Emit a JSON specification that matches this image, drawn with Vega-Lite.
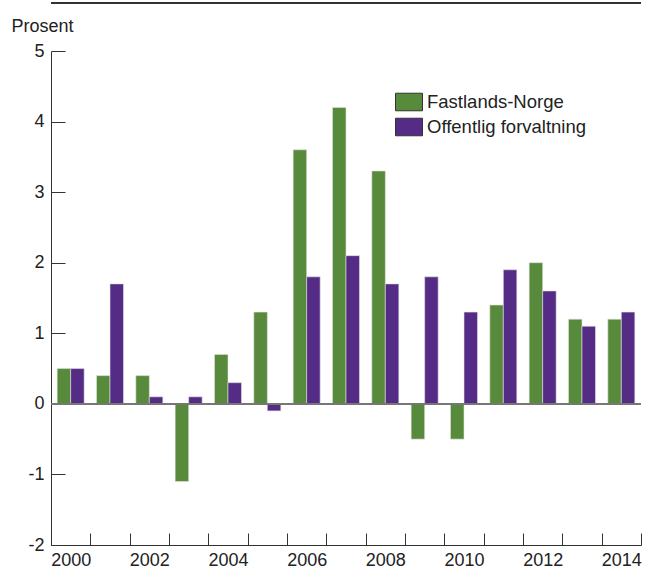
{
  "$schema": "https://vega.github.io/schema/vega-lite/v6.json",
  "autosize": {"type": "none"},
  "width": 590,
  "height": 494,
  "padding": {"left": 51, "top": 51, "right": 9, "bottom": 27},
  "config": {
    "font": "Liberation Sans",
    "view": {"stroke": null},
    "axis": {"labelFont": "Liberation Sans", "labelFontSize": 18, "labelColor": "#222", "domainColor": "#333", "tickColor": "#333", "grid": false}
  },
  "data": {
    "values": [
      {"year": "2000", "series": "Fastlands-Norge", "value": 0.5},
      {"year": "2000", "series": "Offentlig forvaltning", "value": 0.5},
      {"year": "2001", "series": "Fastlands-Norge", "value": 0.4},
      {"year": "2001", "series": "Offentlig forvaltning", "value": 1.7},
      {"year": "2002", "series": "Fastlands-Norge", "value": 0.4},
      {"year": "2002", "series": "Offentlig forvaltning", "value": 0.1},
      {"year": "2003", "series": "Fastlands-Norge", "value": -1.1},
      {"year": "2003", "series": "Offentlig forvaltning", "value": 0.1},
      {"year": "2004", "series": "Fastlands-Norge", "value": 0.7},
      {"year": "2004", "series": "Offentlig forvaltning", "value": 0.3},
      {"year": "2005", "series": "Fastlands-Norge", "value": 1.3},
      {"year": "2005", "series": "Offentlig forvaltning", "value": -0.1},
      {"year": "2006", "series": "Fastlands-Norge", "value": 3.6},
      {"year": "2006", "series": "Offentlig forvaltning", "value": 1.8},
      {"year": "2007", "series": "Fastlands-Norge", "value": 4.2},
      {"year": "2007", "series": "Offentlig forvaltning", "value": 2.1},
      {"year": "2008", "series": "Fastlands-Norge", "value": 3.3},
      {"year": "2008", "series": "Offentlig forvaltning", "value": 1.7},
      {"year": "2009", "series": "Fastlands-Norge", "value": -0.5},
      {"year": "2009", "series": "Offentlig forvaltning", "value": 1.8},
      {"year": "2010", "series": "Fastlands-Norge", "value": -0.5},
      {"year": "2010", "series": "Offentlig forvaltning", "value": 1.3},
      {"year": "2011", "series": "Fastlands-Norge", "value": 1.4},
      {"year": "2011", "series": "Offentlig forvaltning", "value": 1.9},
      {"year": "2012", "series": "Fastlands-Norge", "value": 2.0},
      {"year": "2012", "series": "Offentlig forvaltning", "value": 1.6},
      {"year": "2013", "series": "Fastlands-Norge", "value": 1.2},
      {"year": "2013", "series": "Offentlig forvaltning", "value": 1.1},
      {"year": "2014", "series": "Fastlands-Norge", "value": 1.2},
      {"year": "2014", "series": "Offentlig forvaltning", "value": 1.3}
    ]
  },
  "layer": [
    {
      "mark": {"type": "bar", "stroke": "#e0e0e0", "strokeWidth": 0.6},
      "encoding": {
        "x": {
          "field": "year", "type": "ordinal",
          "scale": {"paddingInner": 0, "paddingOuter": 0},
          "axis": {
            "title": null, "labelAngle": 0, "tickBand": "extent", "tickSize": -12,
            "labelPadding": 18,
            "labelExpr": "toNumber(datum.value) % 2 == 0 ? datum.label : ''"
          }
        },
        "xOffset": {"field": "series", "type": "nominal", "scale": {"paddingInner": 0, "paddingOuter": 0.457}},
        "y": {
          "field": "value", "type": "quantitative",
          "scale": {"domain": [-2, 5], "nice": false, "zero": false},
          "axis": {
            "values": [-2, -1, 0, 1, 2, 3, 4, 5], "labelExpr": "toString(datum.value)", "tickSize": -14, "labelPadding": 21,
            "title": "Prosent", "titleAngle": 0, "titleAlign": "left", "titleBaseline": "alphabetic",
            "titleX": -40, "titleY": -20, "titleFontSize": 18, "titleFontWeight": "normal", "titleColor": "#222", "titleFont": "Liberation Sans"
          }
        },
        "color": {
          "field": "series", "type": "nominal",
          "scale": {"domain": ["Fastlands-Norge", "Offentlig forvaltning"], "range": ["#578a3b", "#552c85"]},
          "legend": {
            "title": null, "orient": "none", "legendX": 344, "legendY": 37,
            "symbolType": "M-1,-0.65L1,-0.65L1,0.65L-1,0.65Z", "symbolSize": 729,
            "symbolStrokeColor": "#333", "symbolStrokeWidth": 1, "symbolOpacity": 1,
            "labelFontSize": 18.5, "labelColor": "#222", "labelFont": "Liberation Sans", "rowPadding": -1, "symbolOffset": 0, "labelOffset": 4
          }
        }
      }
    },
    {
      "mark": {"type": "rule", "color": "#777", "strokeWidth": 1.5},
      "encoding": {"y": {"datum": 0}}
    },
    {
      "mark": {"type": "rule", "color": "#333", "strokeWidth": 1.5, "clip": false},
      "encoding": {"y": {"datum": 5.68}}
    }
  ]
}
